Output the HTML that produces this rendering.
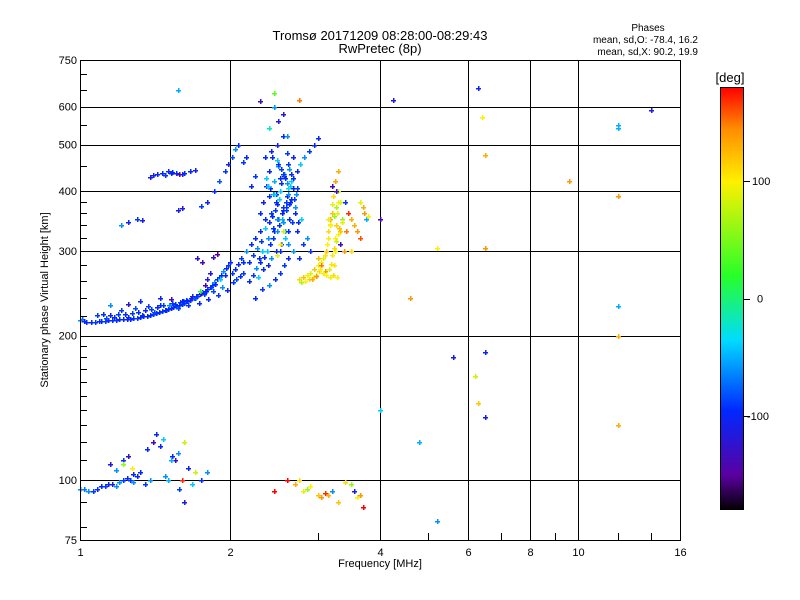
<!DOCTYPE html>
<html><head><meta charset="utf-8"><style>
body{margin:0;background:#fff}
svg{display:block;font-family:"Liberation Sans",sans-serif}
</style></head><body>
<svg id="chart" width="800" height="600" xmlns="http://www.w3.org/2000/svg">
<rect width="800" height="600" fill="#fff"/>
<text x="380" y="40" font-size="13" text-anchor="middle">Tromsø 20171209 08:28:00-08:29:43</text>
<text x="380" y="53" font-size="13" text-anchor="middle">RwPretec (8p)</text>
<text x="648" y="31" font-size="10" text-anchor="middle">Phases</text>
<text x="698" y="43" font-size="10" text-anchor="end">mean, sd,O: -78.4, 16.2</text>
<text x="698" y="55" font-size="10" text-anchor="end">mean, sd,X:  90.2, 19.9</text>
<g id="grid"></g>
<g id="points"></g>
<rect x="80.5" y="60.5" width="600" height="480" fill="none" stroke="#000" stroke-width="1"/>
<g id="axes"></g>
<text x="380" y="567" font-size="11" text-anchor="middle">Frequency [MHz]</text>
<text transform="translate(48,300) rotate(-90)" font-size="11" text-anchor="middle">Stationary phase Virtual Height [km]</text>
<g id="cbar"></g>
<text x="730" y="82" font-size="13" text-anchor="middle">[deg]</text>
</svg>
<script>
const xTicks=[1,2,4,6,8,10,16];
const xMinor=[3,5,7,9,12,14];
const yTicks=[75,100,200,300,400,500,600,750];
const yGrid=[100,200,300,400,500,600];
const yMinor=[80,90,110,120,130,140,150,160,170,180,190,220,240,260,280,320,340,360,380,450,550,650,700];
const cTicks=[100,0,-100];
const freqs=[1.00,1.01,1.02,1.03,1.05,1.07,1.09,1.10,1.12,1.14,1.16,1.18,1.20,1.22,1.24,1.26,1.28,1.30,1.32,1.34,1.36,1.38,1.40,1.42,1.44,1.46,1.48,1.50,1.52,1.54,1.56,1.58,1.60,1.62,1.64,1.66,1.68,1.70,1.72,1.74,1.76,1.78,1.80,1.82,1.84,1.86,1.88,1.90,1.92,1.94,1.96,1.98,2.00,
1.08,1.11,1.15,1.19,1.23,1.27,1.31,1.35,1.39,1.43,1.47,1.51,1.55,1.59,1.63,1.67,1.71,1.75,1.79,1.83,1.87,1.91,1.95,
1.13,1.17,1.21,1.25,1.29,1.33,1.37,1.41,1.45,1.49,1.53,1.57,1.61,1.65,1.69,1.73,1.77,1.81,1.85,1.89,1.93,1.97,2.03,2.06,2.09,2.12,
1.15,1.25,1.32,1.45,1.52,1.60,1.68,1.74,1.78,1.80,1.82,1.76,1.72,1.85,1.88,
1.38,1.40,1.43,1.46,1.50,1.53,1.56,1.60,1.62,1.66,1.70,1.58,1.48,1.52,
1.21,1.25,1.30,1.33,
1.57,1.60,1.75,1.80,1.86,1.90,1.95,1.98,2.02,2.05,2.08,
2.02,2.05,2.08,2.10,2.12,2.15,2.18,2.20,2.22,2.25,2.27,2.30,2.30,2.32,2.33,2.35,2.36,2.38,2.40,2.40,2.42,2.43,2.45,2.45,2.47,2.48,2.50,2.50,2.52,2.52,2.55,2.55,2.57,2.58,2.60,2.60,2.62,2.63,2.65,2.67,2.70,2.72,2.75,2.78,2.80,2.85,2.90,2.50,2.45,2.55,2.40,2.60,2.35,2.25,2.20,2.15,2.12,2.28,2.33,2.38,2.42,2.47,2.53,2.58,2.62,2.66,2.70,2.18,2.22,2.26,2.30,2.34,2.37,2.41,2.44,2.48,2.51,2.54,2.56,2.59,2.61,2.64,2.68,2.73,2.77,2.82,2.88,2.95,3.00,2.25,2.32,2.40,2.46,2.52,2.57,2.62,2.68,
2.29,2.31,2.35,2.39,2.43,2.44,2.46,2.49,2.51,2.53,2.56,2.59,2.61,2.63,2.65,2.69,2.71,2.74,2.36,2.41,2.47,2.52,2.57,2.62,2.67,2.45,2.50,2.55,2.60,2.65,2.42,2.48,2.53,2.58,2.63,2.68,2.72,2.38,2.44,2.49,2.54,2.59,2.64,2.56,2.52,2.48,
2.75,2.78,2.80,2.83,2.85,2.88,2.90,2.93,2.95,2.98,3.00,3.02,3.05,3.07,3.10,3.12,3.13,3.15,3.15,3.17,3.18,3.20,3.20,3.22,3.23,3.25,3.25,3.27,3.28,3.30,3.30,3.32,3.33,3.35,3.28,3.22,3.18,3.10,3.05,3.00,3.25,3.30,3.38,3.42,3.45,3.50,3.55,3.60,3.65,3.70,3.72,3.75,3.78,3.65,3.50,
3.08,3.12,3.16,3.19,3.21,3.24,3.26,3.29,3.31,3.14,3.18,3.23,3.27,3.32,2.92,2.97,3.03,3.36,3.40,3.26,3.20,
1.57,2.45,2.30,2.75,4.25,6.30,6.40,6.50,9.60,12.0,12.0,14.0,12.0,6.50,5.20,4.00,4.60,5.60,6.50,6.20,6.30,6.50,12.0,12.0,12.0,4.00,4.80,5.20,
1.00,1.02,1.04,1.06,1.08,1.10,1.12,1.14,1.16,1.18,1.20,1.22,1.24,1.26,1.28,1.30,1.15,1.18,1.22,1.25,1.28,1.32,1.35,1.38,1.40,1.45,1.48,1.50,1.53,1.55,1.58,1.60,1.62,1.65,1.68,1.70,1.75,1.80,1.42,1.52,1.57,1.36,1.47,1.62,1.22,1.27,
2.70,2.75,2.80,2.85,2.90,3.00,3.05,3.10,3.15,3.20,3.30,3.40,3.50,3.55,3.60,3.65,3.70,2.60,2.45];
const heights=[215,216,214,213,213,213,214,214,214,215,215,215,216,216,217,217,218,218,219,220,220,221,222,223,224,225,226,227,228,229,230,231,233,234,236,237,239,240,242,244,246,248,250,252,255,258,262,265,268,272,276,280,285,
221,222,221,222,222,223,224,226,227,229,231,232,233,235,237,240,242,245,248,252,256,262,268,
218,219,226,219,228,221,230,224,232,226,234,228,236,231,240,234,244,238,248,243,252,249,258,262,266,270,
232,233,236,240,238,236,242,248,255,262,270,285,290,292,296,
428,432,434,437,440,438,436,435,437,440,442,434,432,436,
340,345,350,348,
365,368,372,380,400,420,440,455,470,490,500,
270,275,282,290,285,300,285,310,295,320,305,330,360,300,380,350,410,320,390,440,360,470,330,420,380,500,350,450,300,400,520,370,430,330,480,390,310,350,420,300,370,330,290,350,310,320,300,560,600,580,540,520,470,430,410,470,460,265,275,280,290,300,310,320,330,345,360,260,268,276,284,292,300,310,320,330,340,350,365,380,395,410,425,440,455,470,485,500,515,240,250,255,262,270,280,290,300,
290,315,335,345,355,395,365,375,385,415,345,365,405,375,435,385,395,345,425,405,395,425,435,455,405,395,455,435,415,385,485,465,445,425,445,470,405,410,335,350,360,370,380,330,310,295,
262,258,265,260,268,262,270,265,275,268,280,272,285,290,295,300,310,320,330,340,350,360,375,390,280,300,320,340,360,380,400,310,330,350,265,268,265,272,280,290,420,440,300,330,360,350,340,330,320,370,360,350,355,380,300,
270,268,275,282,295,305,315,325,335,350,342,355,370,380,262,266,275,345,380,400,410,
650,640,615,620,620,655,570,475,420,550,540,590,390,305,305,350,240,180,185,165,145,135,230,200,130,140,120,82,
96,96,95,95,96,97,97,98,98,97,99,100,101,100,99,102,108,105,110,112,103,104,98,100,120,118,102,100,112,110,96,100,90,106,98,104,100,104,125,110,114,116,122,120,108,106,
98,100,95,96,97,93,92,94,93,95,90,99,98,95,92,93,88,100,95];
const phases=[-60,-70,-95,-95,-95,-90,-95,-95,-90,-95,-95,-90,-95,-95,-100,-95,-95,-90,-95,-95,-100,-95,-90,-95,-95,-90,-95,-95,-100,-95,-90,-95,-95,-90,-95,-95,-100,-90,-95,-95,-90,-95,-90,-95,-90,-60,-95,-90,-95,-60,-95,-90,-95,
-90,-95,-100,-90,-95,-90,-95,-100,-90,-95,-90,-60,-95,-90,-95,-100,-90,-140,-95,-90,-95,-40,-95,
-85,-95,-90,-100,-85,-95,-90,-85,-95,-100,-90,-85,-95,-90,-80,-95,-90,-100,-85,-90,-60,-95,-90,-85,-95,-90,
-60,-120,-95,-100,-140,-95,-110,10,-140,-110,-120,-140,-120,-130,-150,
-110,-110,-100,-95,-100,-95,-100,-100,-95,-100,-110,-140,-90,-100,
-60,-100,-90,-110,
-110,-110,-90,-100,-95,-80,-90,-110,-80,-60,-95,
-90,-95,-100,-90,-95,-60,-95,-100,-90,-95,-60,-100,-95,-40,-110,-95,-90,-60,-95,-100,-90,-95,-100,-50,-95,-110,-90,-60,-95,-40,-100,-90,-95,-50,-90,-100,-60,-95,-40,-90,-60,-100,-95,-40,-90,-60,-95,-110,-60,-120,-20,-60,-95,-90,-100,-95,-90,-40,-95,-100,-60,-95,-90,-40,-95,-90,-100,-95,-90,-60,-95,-100,-40,-95,-90,-60,-95,-50,-100,-90,-60,-40,-95,-100,-40,-60,-90,-95,-100,-95,-90,-60,-95,-90,
-90,-100,-60,-95,-90,-40,-100,-95,-60,-90,-100,-40,-95,-60,-90,-30,-95,-100,-90,-60,-95,-40,-100,-90,-95,-60,-90,-100,-40,-95,-90,-60,-95,-100,-40,-90,-95,-60,-100,-90,-40,-95,-60,-100,-90,-95,
80,100,90,110,70,120,100,95,110,85,100,120,105,95,110,100,90,105,120,100,95,110,100,130,120,90,110,105,95,100,115,90,100,85,-130,120,60,100,110,95,140,150,120,135,130,140,150,170,130,130,140,160,130,140,-50,
100,90,110,95,100,85,105,95,110,80,100,120,90,100,60,70,90,130,140,100,90,
-90,-130,-140,-50,40,-130,150,-110,-100,100,130,140,-50,-50,-110,140,140,100,-140,140,-110,-100,80,120,-110,-50,130,130,
-40,-50,-60,-60,-70,-60,-90,-95,-95,-90,-100,-110,-60,-60,-90,-95,-90,-60,-95,-110,-60,-90,-130,-100,-95,-90,-60,-140,-100,-60,-50,-95,-130,-90,170,-110,-110,-40,80,-95,-60,-100,-50,-60,-95,-40,
80,60,100,130,110,90,60,100,120,140,170,130,-60,120,110,60,-110,100,140];

const NS='http://www.w3.org/2000/svg';
const X0=80,X1=680,Y0=540,Y1=60;
function xs(f){return X0+(X1-X0)*Math.log2(f)/4;}
function ys(h){return Y0-(Y0-Y1)*Math.log10(h/75);}
const cStops=[[-180,[0,0,0]],[-150,[90,0,160]],[-95,[0,40,255]],[-35,[0,220,255]],[20,[40,255,40]],[100,[255,240,0]],[145,[255,140,0]],[180,[255,0,0]]];
function cmap(p){for(let i=1;i<cStops.length;i++){if(p<=cStops[i][0]){const a=cStops[i-1],b=cStops[i];const t=Math.max(0,(p-a[0])/(b[0]-a[0]));const c=a[1].map((v,k)=>Math.round(v+(b[1][k]-v)*t));return 'rgb('+c.join(',')+')';}}return 'rgb(255,0,0)';}
function mk(tag,attrs,parent){const e=document.createElementNS(NS,tag);for(const k in attrs)e.setAttribute(k,attrs[k]);parent.appendChild(e);return e;}
const grid=document.getElementById('grid'),axes=document.getElementById('axes'),pts=document.getElementById('points'),cbar=document.getElementById('cbar');
xTicks.forEach(f=>{const x=Math.round(xs(f))+0.5;
 if(f>1&&f<16){const l=mk('line',{x1:x,x2:x,y1:Y1,y2:Y0,stroke:'#000','stroke-width':1},grid);
 
 }
 const t=mk('text',{x:x,y:556,'font-size':11,'text-anchor':'middle'},axes);t.textContent=f;
 
 });
xMinor.forEach(f=>{const x=Math.round(xs(f))+0.5;const l=mk('line',{x1:x,x2:x,y1:Y0,y2:Y0-7,stroke:'#000'},axes);
 
 });
yGrid.forEach(h=>{const y=Math.round(ys(h))+0.5;const l=mk('line',{x1:X0,x2:X1,y1:y,y2:y,stroke:'#000'},grid);
 
 });
yTicks.forEach(h=>{const t=mk('text',{x:77,y:ys(h)+4,'font-size':11,'text-anchor':'end'},axes);t.textContent=h;
 
 });
yMinor.forEach(h=>{const y=Math.round(ys(h))+0.5;const l=mk('line',{x1:X0,x2:X0+7,y1:y,y2:y,stroke:'#000'},axes);
 
 });
for(let i=0;i<freqs.length;i++){const x=Math.round(xs(freqs[i])),y=Math.round(ys(heights[i]));
 const p=mk('path',{d:`M${x-2} ${y+0.5}h5M${x+0.5} ${y-2}v5`,stroke:cmap(phases[i]),'stroke-width':1.5,fill:'none','shape-rendering':'crispEdges'},pts);
 
 }
const CB0=87,CB1=510;
for(let y=CB0;y<CB1;y++){const p=180-360*(y-CB0)/(CB1-CB0);mk('rect',{x:720,y:y,width:24,height:1,fill:cmap(p)},cbar);}
mk('rect',{x:720.5,y:CB0+0.5,width:23,height:CB1-CB0-1,fill:'none',stroke:'#000'},cbar);
cTicks.forEach(v=>{const y=CB0+(180-v)/360*(CB1-CB0);
 const l=mk('line',{x1:744,x2:750,y1:Math.round(y)+0.5,y2:Math.round(y)+0.5,stroke:'#000'},cbar);
 
 
 const t=mk('text',{x:v<0?747:(v===0?757:752),y:y+4,'font-size':11},cbar);t.textContent=v;
 
 });
</script>
</body></html>
